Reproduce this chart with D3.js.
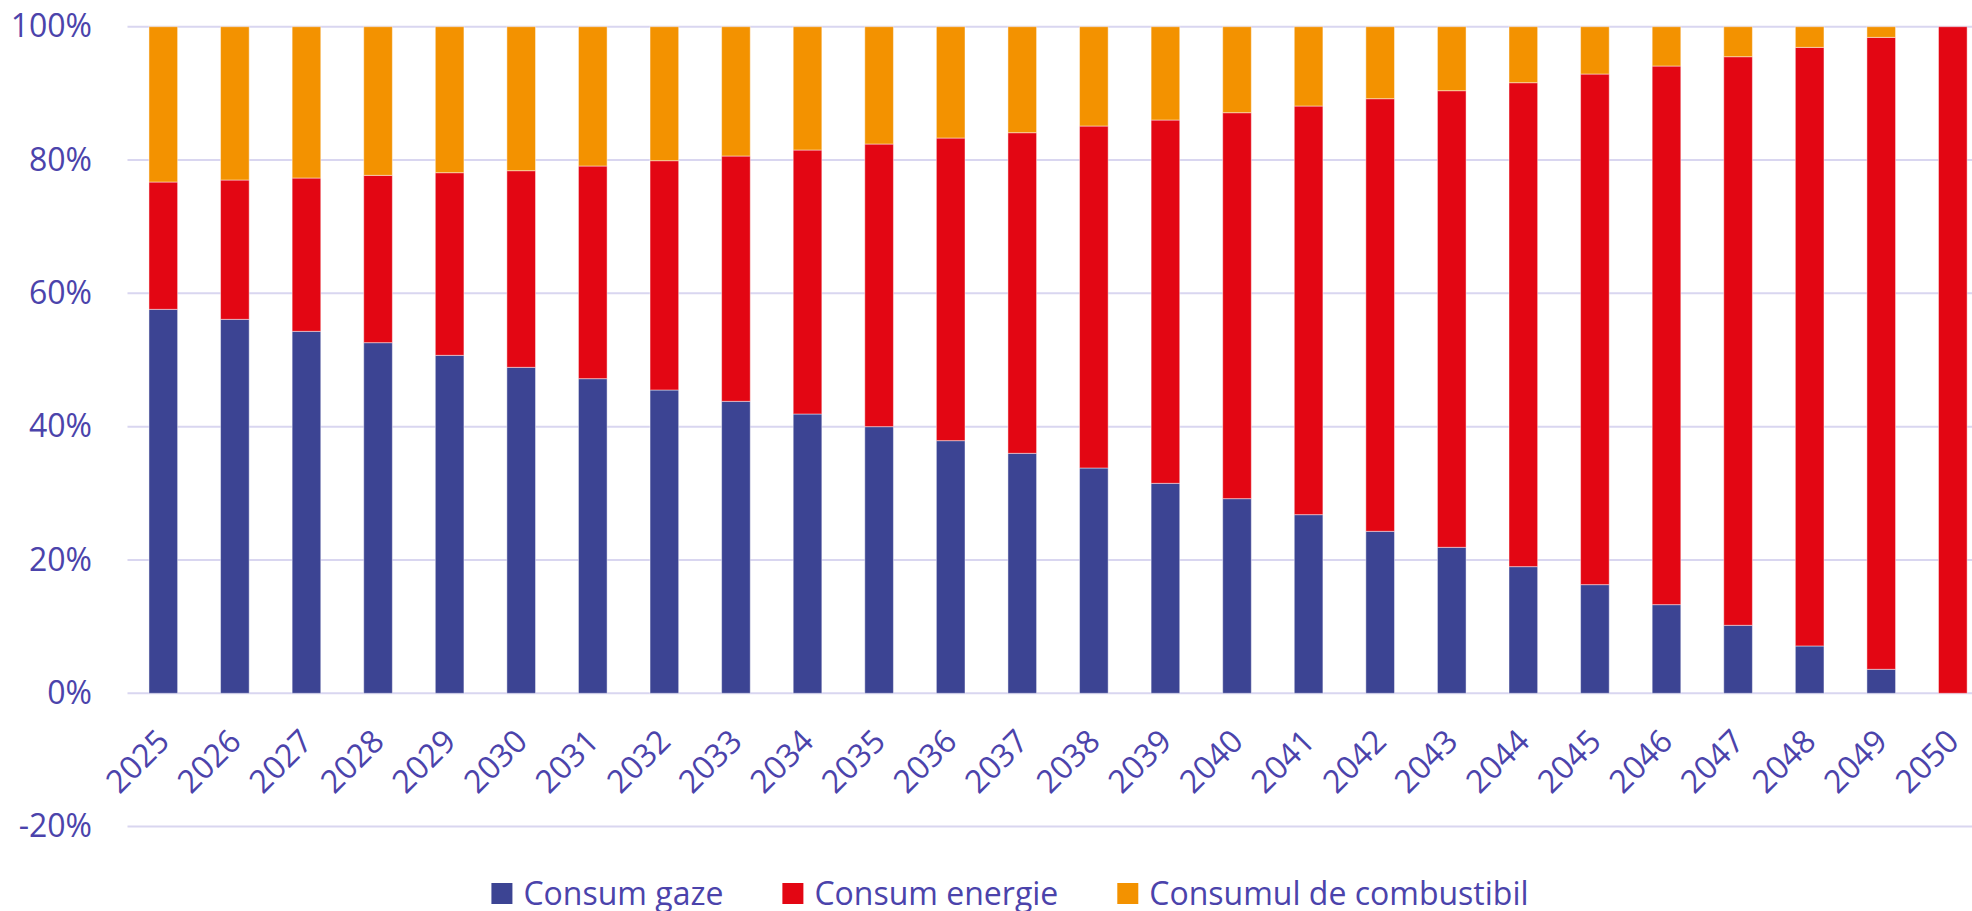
<!DOCTYPE html>
<html>
<head>
<meta charset="utf-8">
<script src="https://cdn.jsdelivr.net/npm/d3@7"></script>
<style>
  body { margin: 0; background: #fff; }
  svg { display: block; }
  text { font-family: "Open Sans", sans-serif; fill: #4b43ab; }
</style>
</head>
<body>
<div class="chart-container"></div>
<script>
/* Data
   ========================================================================== */
var years = ["2025", "2026", "2027", "2028", "2029", "2030", "2031", "2032", "2033",
             "2034", "2035", "2036", "2037", "2038", "2039", "2040", "2041", "2042",
             "2043", "2044", "2045", "2046", "2047", "2048", "2049", "2050"];

// share of each series, in %
var consumGaze = [57.6, 56.1, 54.3, 52.6, 50.7, 48.9, 47.2, 45.5, 43.8,
                  41.9, 40.0, 37.9, 36.0, 33.8, 31.5, 29.2, 26.8, 24.3,
                  21.9, 19.0, 16.3, 13.3, 10.2, 7.1, 3.6, 0];
var consumEnergie = [19.1, 20.9, 23.0, 25.1, 27.4, 29.5, 31.9, 34.4, 36.8,
                     39.6, 42.4, 45.4, 48.1, 51.3, 54.5, 57.9, 61.3, 64.9,
                     68.5, 72.6, 76.6, 80.8, 85.3, 89.8, 94.8, 100];
var consumCombustibil = [23.3, 23.0, 22.7, 22.3, 21.9, 21.6, 20.9, 20.1, 19.4,
                         18.5, 17.6, 16.7, 15.9, 14.9, 14.0, 12.9, 11.9, 10.8,
                         9.6, 8.4, 7.1, 5.9, 4.5, 3.1, 1.6, 0];

var seriesNames = ["Consum gaze", "Consum energie", "Consumul de combustibil"];
var seriesColors = ["#3c4493", "#e30613", "#f39200"];
var yTicks = [-20, 0, 20, 40, 60, 80, 100];

/* Chart
   ========================================================================== */
var W = 1972, H = 911;
var margin = { top: 26.7, left: 127.5, plotRight: 1988.6, zeroY: 693.3 };
var fontSize = "32px";

var svg = d3.select(".chart-container").append("svg")
    .attr("width", W)
    .attr("height", H);

var x = d3.scaleBand()
    .domain(years)
    .range([margin.left, margin.plotRight])
    .paddingInner(0.6)
    .paddingOuter(0.3);

// 100% at top, 0% at zeroY
var y = d3.scaleLinear()
    .domain([0, 100])
    .range([margin.zeroY, margin.top]);

// gridlines
svg.append("g")
    .attr("class", "grid")
    .selectAll("line")
    .data(yTicks)
    .enter().append("line")
    .attr("x1", margin.left)
    .attr("x2", W)
    .attr("y1", function(d) { return y(d); })
    .attr("y2", function(d) { return y(d); })
    .attr("stroke", "#d9d6f0")
    .attr("stroke-width", 2);

// y axis labels
var yAxis = svg.append("g")
    .attr("class", "y-axis")
    .attr("transform", "translate(" + (margin.left - 35.5) + ",0)")
    .call(d3.axisLeft(y).tickValues(yTicks).tickSize(0).tickPadding(0)
        .tickFormat(function(d) { return d + "%"; }));
yAxis.select(".domain").remove();
yAxis.selectAll("text")
    .style("font-size", fontSize)
    .attr("fill", "#4b43ab");

// stack the series
var rows = years.map(function(yr, i) {
    return { year: yr, gaze: consumGaze[i], energie: consumEnergie[i], comb: consumCombustibil[i] };
});
var stack = d3.stack().keys(["gaze", "energie", "comb"]);
var layers = stack(rows);

svg.append("g")
    .attr("class", "bars")
    .selectAll("g")
    .data(layers)
    .enter().append("g")
    .attr("fill", function(d, i) { return seriesColors[i]; })
    .selectAll("rect")
    .data(function(d) { return d; })
    .enter().append("rect")
    .attr("x", function(d) { return x(d.data.year); })
    .attr("width", x.bandwidth())
    .attr("y", function(d) { return y(d[1]); })
    .attr("height", function(d) { return Math.max(0, y(d[0]) - y(d[1])); })
    .attr("stroke", "#ffffff")
    .attr("stroke-opacity", 0.45)
    .attr("stroke-width", 1);

// x axis labels, rotated
svg.append("g")
    .attr("class", "x-axis")
    .selectAll("text")
    .data(years)
    .enter().append("text")
    .attr("transform", function(d) {
        return "translate(" + (x(d) + x.bandwidth() / 2 + 8) + "," + (margin.zeroY + 50) + ") rotate(-45)";
    })
    .attr("text-anchor", "end")
    .style("font-size", fontSize)
    .text(function(d) { return d; });

// legend
var legend = svg.append("g").attr("class", "legend");
var lx = 0;
seriesNames.forEach(function(name, i) {
    var item = legend.append("g").attr("transform", "translate(" + lx + ",0)");
    item.append("rect")
        .attr("x", 0)
        .attr("y", 883)
        .attr("width", 21)
        .attr("height", 21)
        .attr("fill", seriesColors[i]);
    var t = item.append("text")
        .attr("x", 32)
        .attr("y", 905)
        .style("font-size", fontSize)
        .text(name);
    lx += 32 + t.node().getComputedTextLength() + 59;
});
var legendWidth = lx - 59;
legend.attr("transform", "translate(" + (1010 - legendWidth / 2) + ",0)");
</script>
</body>
</html>
